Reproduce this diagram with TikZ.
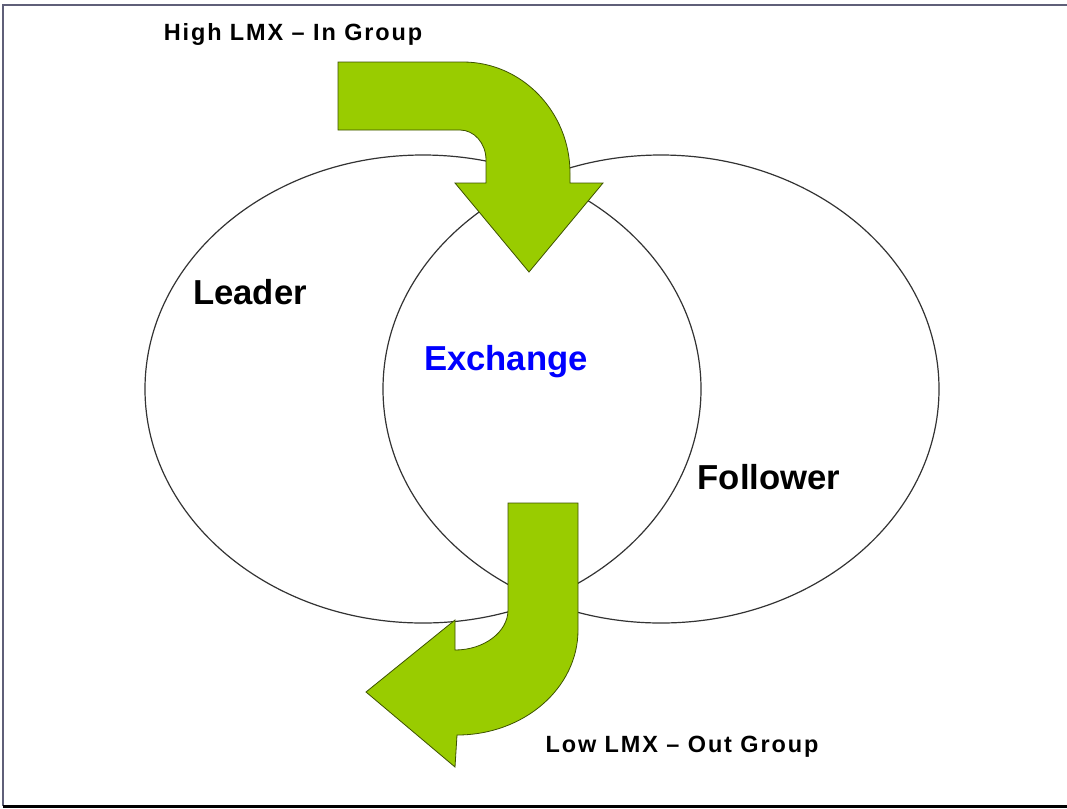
\documentclass[tikz,border=0pt]{standalone}
\usepackage{fontspec}
\setmainfont{Liberation Sans}
\newfontfamily\tagfont[LetterSpace=8]{Liberation Sans}
\usetikzlibrary{shapes.geometric}
\definecolor{arrowgreen}{HTML}{99CC00}
\definecolor{arrowedge}{HTML}{3D5200}
\definecolor{ringline}{HTML}{333333}
\definecolor{framegray}{HTML}{5F5F78}
\definecolor{exblue}{HTML}{0000FF}
\tikzset{
  ring/.style={ellipse, draw=ringline, line width=0.9pt,
    minimum width=417pt, minimum height=351pt, inner sep=0pt},
  bigtag/.style={font=\fontsize{26}{30}\selectfont\bfseries, inner sep=0pt},
  smalltag/.style={font=\tagfont\fontsize{17.6}{20}\selectfont\bfseries, inner sep=0pt},
  bentarrow/.style={fill=arrowgreen, draw=arrowedge, line width=0.6pt, line join=miter},
  frameline/.style={line width=1.6pt}
}
\begin{document}
\begin{tikzpicture}[x=0.75pt, y=-0.75pt]
  % canvas
  \fill[white] (0,0) rectangle (1067,808);
  \useasboundingbox (0,0) rectangle (1067,808);

  % frame edges
  \draw[frameline, framegray] (3,806) -- (3,5) -- (1067,5);
  \draw[line width=2.2pt, black] (3,806.5) -- (1067,806.5);

  % the two overlapping ellipses
  \node[ring] (leaderE) at (423,389) {};
  \node[ring] (followerE) at (661,389) {};

  % labels inside the ellipses
  \node[bigtag] (leader) at (250,292) {Leader};
  \node[bigtag, text=exblue] (exchange) at (506,362) {Exchange};
  \node[bigtag] (follower) at (769,477) {Follower};

  % upper bent arrow: right, then down into the overlap
  \draw[bentarrow] (338,62) -- (463,62)
     .. controls (522,62) and (570,112) .. (570,173)
     -- (570,183) -- (603,183) -- (529,272) -- (455,183) -- (486,183)
     -- (486,160) .. controls (486,143) and (474,130) .. (460,130)
     -- (338,130) -- cycle;

  % lower bent arrow: down, then back to the left
  \draw[bentarrow] (508,503) -- (578,503) -- (578,630)
     .. controls (578,688) and (524,735) .. (457,735)
     -- (455,767) -- (366,692) -- (455,620) -- (455,650)
     .. controls (484,650) and (508,632) .. (508,610) -- cycle;

  % captions
  \node[smalltag] (high) at (293,34) {High LMX – In Group};
  \node[smalltag] (low) at (682,747) {Low LMX – Out Group};
\end{tikzpicture}
\end{document}
